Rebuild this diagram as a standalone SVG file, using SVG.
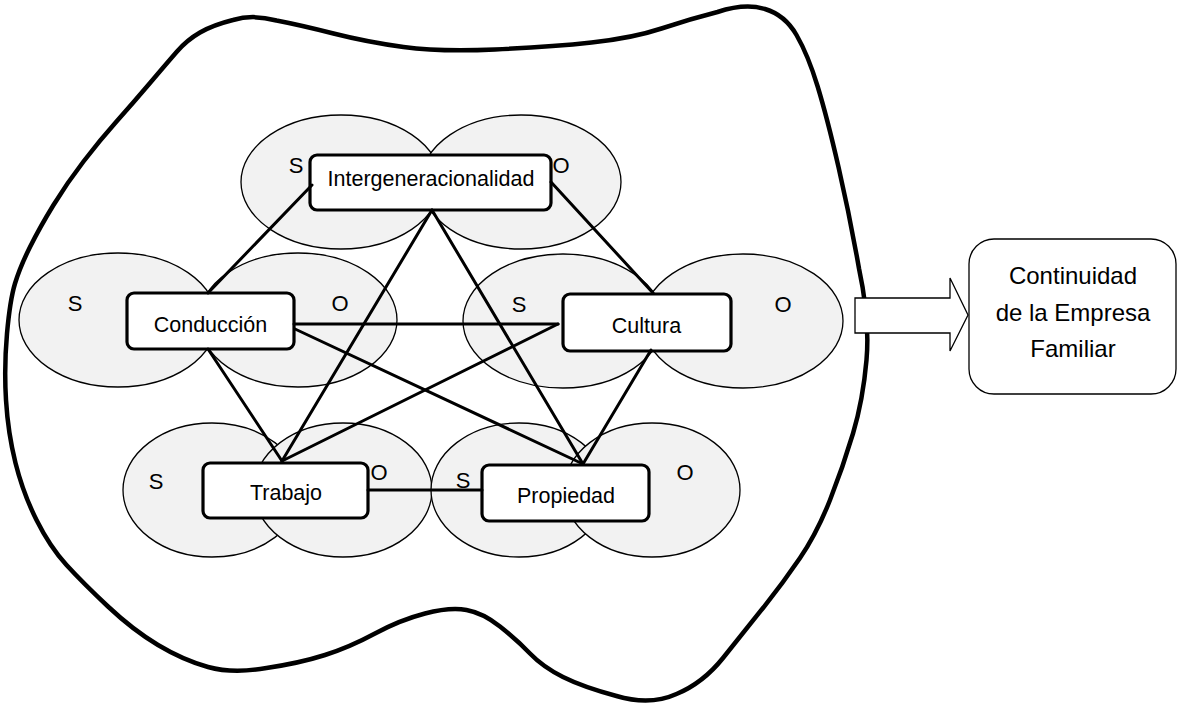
<svg xmlns="http://www.w3.org/2000/svg" width="1178" height="709" viewBox="0 0 1178 709">
<style>
.ell{fill:#f2f2f2;stroke:#000;stroke-width:1.3}
.box{fill:#fff;stroke:#000;stroke-width:3.2}
.lbl{font-family:"Liberation Sans",Arial,sans-serif;font-size:21.5px;fill:#000;text-anchor:middle}
.so{font-family:"Liberation Sans",Arial,sans-serif;font-size:22px;fill:#000;text-anchor:middle}
.big{font-family:"Liberation Sans",Arial,sans-serif;font-size:24px;fill:#000;text-anchor:middle}
.con{stroke:#000;stroke-width:3;fill:none;stroke-linecap:round}
</style>
<rect width="1178" height="709" fill="#fff"/>
<path id="blob" fill="none" stroke="#000" stroke-width="4.5" stroke-linejoin="round" d="M 276.5,20.5 Q 300,25 333.5,33.5 Q 367,42 403.5,47 Q 440,52 495,49.5 Q 550,47 591.5,42.5 Q 633,38 661.5,28.5 Q 690,19 717.5,12 Q 745,3 765,9 Q 785,15 796.5,35 Q 808,55 817.5,86 Q 827,117 838.5,167 Q 850,217 859,268.5 Q 870,320 866.5,360 Q 863,400 853,433.5 Q 843,467 830,500 Q 817,533 800,558 Q 783,583 763,608 Q 743,633 723,658 Q 703,683 676.5,694 Q 650,706 616.5,696 Q 583,687 563,677 Q 543,667 530,653.5 Q 517,640 500,626.5 Q 483,613 466.5,610 Q 450,607 425,613.5 Q 400,620 375,633.5 Q 350,647 325,655 Q 300,663 266.5,668 Q 233,674 208,667 Q 183,660 158,645 Q 133,630 108,606.5 Q 83,583 66.5,565 Q 50,547 36.5,520 Q 23,493 15.5,463 Q 8,433 6,400 Q 4,367 7,333.5 Q 10,300 15,283.5 Q 20,267 30,247 Q 40,227 53.5,205 Q 67,183 83.5,161.5 Q 100,140 116.5,121.5 Q 133,103 150,83 Q 167,63 177,51.5 Q 187,40 200,32.5 Q 213,25 233,20 Q 253,14 276.5,20.5 Z"/>
<g id="node-intergeneracionalidad">
<ellipse class="ell" cx="341" cy="182" rx="100" ry="67"/>
<ellipse class="ell" cx="521" cy="182" rx="100" ry="67"/>
<text class="so" x="296" y="173">S</text>
<text class="so" x="561" y="173">O</text>
<rect class="box" x="310" y="155" width="241" height="55" rx="7"/>
<text class="lbl" x="431" y="186">Intergeneracionalidad</text>
</g>
<g id="node-conduccion">
<ellipse class="ell" cx="118" cy="320" rx="99" ry="67"/>
<ellipse class="ell" cx="298" cy="320" rx="99" ry="67"/>
<text class="so" x="75" y="311">S</text>
<text class="so" x="340" y="311">O</text>
<rect class="box" x="127" y="293" width="167" height="56" rx="7"/>
<text class="lbl" x="210.5" y="332">Conducción</text>
</g>
<g id="node-cultura">
<ellipse class="ell" cx="743" cy="321" rx="100" ry="67"/>
<ellipse class="ell" cx="563" cy="321" rx="100" ry="67"/>
<text class="so" x="519" y="312">S</text>
<text class="so" x="783" y="312">O</text>
<rect class="box" x="563" y="294" width="168" height="57" rx="7"/>
<text class="lbl" x="646.5" y="333">Cultura</text>
</g>
<g id="node-trabajo">
<ellipse class="ell" cx="212" cy="490" rx="89" ry="67"/>
<ellipse class="ell" cx="343" cy="490" rx="89" ry="67"/>
<text class="so" x="156" y="489">S</text>
<text class="so" x="379" y="480">O</text>
<rect class="box" x="203" y="463" width="165" height="55" rx="7"/>
<text class="lbl" x="286" y="500">Trabajo</text>
</g>
<g id="node-propiedad">
<ellipse class="ell" cx="519" cy="490" rx="88" ry="67"/>
<ellipse class="ell" cx="652" cy="490" rx="88" ry="67"/>
<text class="so" x="463" y="488">S</text>
<text class="so" x="685" y="480">O</text>
<rect class="box" x="482" y="465" width="167" height="56" rx="7"/>
<text class="lbl" x="566" y="503">Propiedad</text>
</g>
<g id="connectors">
<line class="con" x1="312" y1="185" x2="208" y2="293"/>
<line class="con" x1="551" y1="182" x2="653" y2="293"/>
<line class="con" x1="432" y1="210" x2="282" y2="461"/>
<line class="con" x1="432" y1="210" x2="583" y2="464"/>
<line class="con" x1="294" y1="324" x2="558" y2="324"/>
<line class="con" x1="295" y1="329" x2="583" y2="464"/>
<line class="con" x1="208" y1="349" x2="282" y2="461"/>
<line class="con" x1="558" y1="324" x2="282" y2="461"/>
<line class="con" x1="651" y1="350" x2="583" y2="464"/>
<line class="con" x1="368" y1="490" x2="482" y2="490"/>
</g>
<g id="arrow">
<polygon points="855,298 950,298 950,278 968,315 950,351 950,333 855,333" fill="#fff" stroke="#000" stroke-width="1.3" stroke-linejoin="miter"/>
</g>
<g id="node-continuidad">
<rect x="969" y="239" width="207" height="155" rx="25" fill="#fff" stroke="#000" stroke-width="1.3"/>
<text class="big" x="1073" y="284">Continuidad</text>
<text class="big" x="1073" y="321">de la Empresa</text>
<text class="big" x="1073" y="357">Familiar</text>
</g>
</svg>
